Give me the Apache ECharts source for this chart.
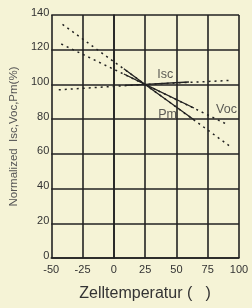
<!DOCTYPE html>
<html>
<head>
<meta charset="utf-8">
<script src="https://cdn.jsdelivr.net/npm/echarts@6/dist/echarts.min.js"></script>
<style>
html, body { margin: 0; padding: 0; background: #f5f3d6; }
#chart { width: 252px; height: 308px; }
</style>
</head>
<body>
<div id="chart"></div>
<script>
// temperature coefficient lines (dotted full range, solid middle part)
var pmDotted = [[-41, 134.6], [25, 100], [92, 64.8]];
var pmSolid = [[8, 109], [25, 100], [64, 79.6]];
var vocDotted = [[-42, 123.3], [25, 100], [91, 76.8]];
var vocSolid = [[8, 106], [25, 100], [64, 86.4]];
var iscDotted = [[-44, 96.9], [25, 100], [93, 102.3]];
var iscSolid = [[9, 99.4], [25, 100], [60, 101.4]];
var labels = [
  { name: "Isc", value: [41, 105.6] },
  { name: "Voc", value: [90, 85.5] },
  { name: "Pm", value: [43, 82.6] }
];
var xTicks = [-50, -25, 0, 25, 50, 75, 100];

var chart = echarts.init(document.getElementById("chart"));

function line(data, dotted) {
  return {
    type: "line",
    data: data,
    symbol: "none",
    silent: true,
    animation: false,
    lineStyle: {
      color: "#222",
      width: dotted ? 1.5 : 1.3,
      type: dotted ? [2, 4] : "solid"
    }
  };
}

chart.setOption({
  backgroundColor: "#f5f3d6",
  grid: { left: 51, right: 13, top: 15, bottom: 50 },
  xAxis: {
    type: "value",
    min: -50,
    max: 100,
    interval: 25,
    name: "Zelltemperatur (   )",
    nameLocation: "middle",
    nameGap: 28,
    nameTextStyle: { fontFamily: "Liberation Sans", fontSize: 16, color: "#333" },
    axisLine: { lineStyle: { color: "#222", width: 1.6 } },
    axisTick: { show: false },
    axisLabel: {
      fontFamily: "Liberation Sans", fontSize: 11, color: "#333", margin: 6,
      formatter: function (v) { return xTicks.indexOf(v) >= 0 ? String(v) : ""; }
    },
    splitLine: { lineStyle: { color: "#222", width: 1.6 } }
  },
  yAxis: {
    type: "value",
    min: 0,
    max: 140,
    interval: 20,
    name: "Normalized  Isc,Voc,Pm(%)",
    nameLocation: "middle",
    nameGap: 30,
    nameTextStyle: { fontFamily: "Liberation Sans", fontSize: 11.5, color: "#555" },
    axisLine: { show: true, lineStyle: { color: "#222", width: 1.6 } },
    axisTick: { show: false },
    axisLabel: { fontFamily: "Liberation Sans", fontSize: 11, color: "#333", margin: 2, verticalAlign: "bottom", padding: [0, 0, -3, 0] },
    splitLine: { lineStyle: { color: "#222", width: 1.6 } }
  },
  series: [
    line(pmDotted, true), line(pmSolid, false),
    line(vocDotted, true), line(vocSolid, false),
    line(iscDotted, true), line(iscSolid, false),
    {
      type: "scatter",
      data: labels,
      symbolSize: 0,
      silent: true,
      animation: false,
      label: {
        show: true,
        position: "inside",
        formatter: "{b}",
        fontFamily: "Liberation Sans",
        fontSize: 12.5,
        color: "#333"
      }
    }
  ]
});
</script>
</body>
</html>
